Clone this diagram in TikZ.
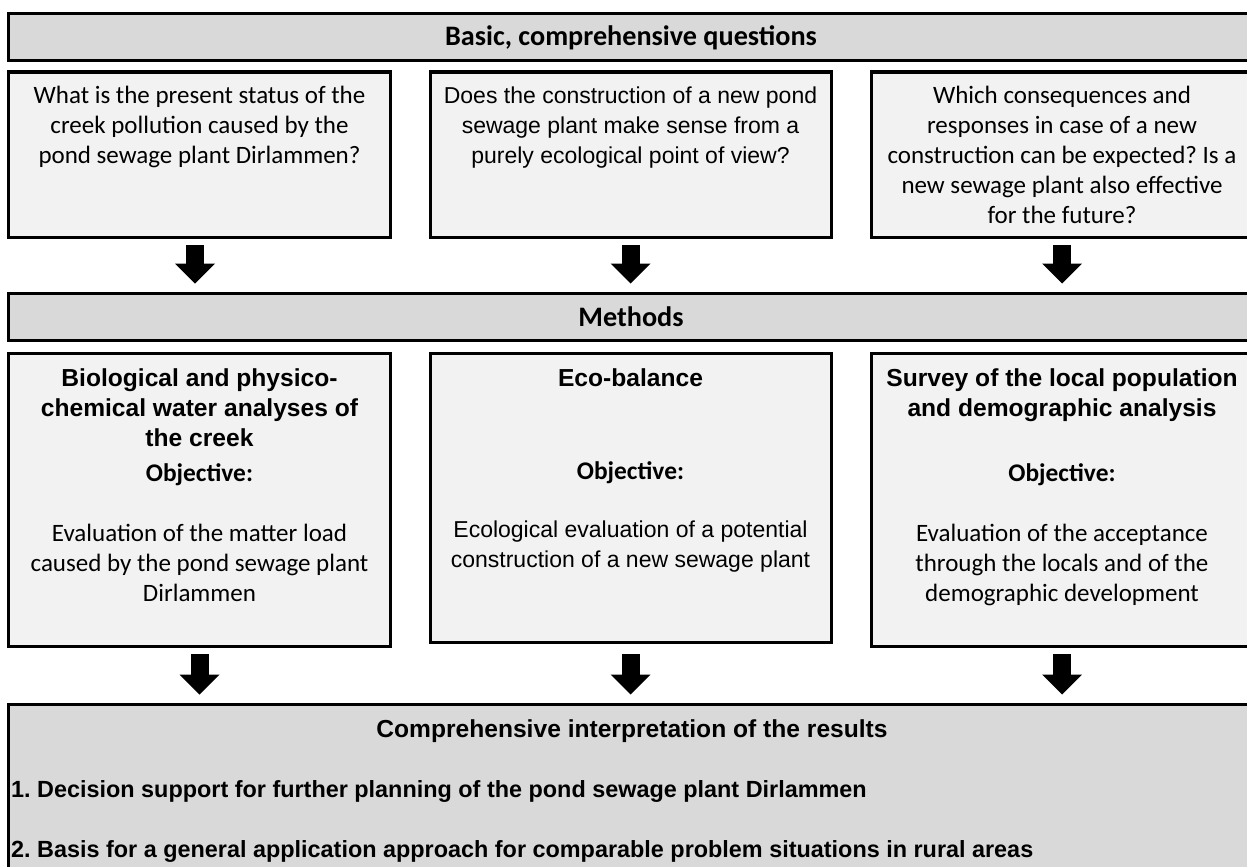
\documentclass[tikz,border=0pt]{standalone}
\usepackage{fontspec}
\setmainfont{Carlito}
\newfontfamily\arialfont{Liberation Sans}
\usetikzlibrary{positioning,arrows.meta}
\frenchspacing
\newcommand{\fatarrow}[2]{
	\draw[line width=18pt,-{Triangle[length=20pt,width=40pt,line width=0pt]},shorten <=8pt,shorten >=10pt] (#1)--(#2);
}
\tikzset{
	bar/.style={draw,line width=3pt,fill=black!15,inner sep=0pt,outer sep=0pt,anchor=north west},
	qbox/.style={draw,line width=3pt,fill=black!5,inner sep=0pt,outer sep=0pt,anchor=north west},
	headtext/.style={anchor=base,inner sep=0pt,font=\fontsize{28.2}{30}\selectfont\bfseries},
	objtext/.style={anchor=base,inner sep=0pt,font=\fontsize{25.4}{30}\selectfont\bfseries},
	qtext/.style={anchor=base,inner sep=0pt,align=center,font=\fontsize{25}{30}\selectfont},
	mhead/.style={anchor=base,inner sep=0pt,align=center,font=\arialfont\fontsize{24.6}{30}\selectfont\bfseries},
	atext/.style={anchor=base,inner sep=0pt,align=center,font=\arialfont\fontsize{23}{30}\selectfont},
	rtext/.style={anchor=base west,inner sep=0pt,font=\arialfont\fontsize{23.4}{30}\selectfont\bfseries}
}
\begin{document}
\begin{tikzpicture}[x=1pt,y=-1pt]
\useasboundingbox (0,0) rectangle (1247,867);
\clip (0,0) rectangle (1247,867);

% the base of a text is the base line of its last line
\node[bar,minimum width=1245pt,minimum height=47pt] (basic) at (8.5,13.5) {};
\node[headtext] (basictxt) at (631,45.5) {Basic, comprehensive questions};

\node[qbox,minimum width=382pt,minimum height=165pt] (q1) at (8.5,72) {};
\node[qbox,minimum width=401pt,minimum height=165pt] (q2) at (430,72) {};
\node[qbox,minimum width=382pt,minimum height=165pt] (q3) at (871,72) {};
\node[qtext] (q1txt) at (199.5,163) {What is the present status of the\\creek pollution caused by the\\pond sewage plant Dirlammen?};
\node[atext] (q2txt) at (630.5,163) {Does the construction of a new pond\\sewage plant make sense from a\\purely ecological point of view?};
\node[qtext] (q3txt) at (1062,223) {Which consequences and\\responses in case of a new\\construction can be expected? Is a\\new sewage plant also effective\\for the future?};

\node[bar,minimum width=1245pt,minimum height=47pt] (methods) at (8.5,293.5) {};
\node[headtext] (methodstxt) at (631,326.5) {Methods};

\fatarrow{[xshift=-4.5pt]q1.south}{[xshift=-4.5pt]q1.south |- methods.north}
\fatarrow{q2.south}{q2.south |- methods.north}
\fatarrow{q3.south}{q3.south |- methods.north}

\node[qbox,minimum width=382pt,minimum height=293pt] (m1) at (8.5,353) {};
\node[qbox,minimum width=401pt,minimum height=289pt] (m2) at (430,353) {};
\node[qbox,minimum width=382pt,minimum height=293pt] (m3) at (871,353) {};

\node[mhead] (m1head) at (199.5,446) {Biological and physico-\\chemical water analyses of\\the creek};
\node[objtext] (m1obj) at (199.5,481.5) {Objective:};
\node[qtext] (m1txt) at (199.5,601) {Evaluation of the matter load\\caused by the pond sewage plant\\Dirlammen};

\node[mhead] (m2head) at (630.5,386) {Eco-balance};
\node[objtext] (m2obj) at (630.5,479) {Objective:};
\node[atext] (m2txt) at (630.5,567) {Ecological evaluation of a potential\\construction of a new sewage plant};

\node[mhead] (m3head) at (1062,416) {Survey of the local population\\and demographic analysis};
\node[objtext] (m3obj) at (1062,481.5) {Objective:};
\node[qtext] (m3txt) at (1062,601) {Evaluation of the acceptance\\through the locals and of the\\demographic development};

\node[bar,minimum width=1247pt,minimum height=200pt] (results) at (8.5,704.5) {};
\node[mhead] (resultstxt) at (632,737) {Comprehensive interpretation of the results};
\node[rtext] (res1) at (11,797) {1. Decision support for further planning of the pond sewage plant Dirlammen};
\node[rtext] (res2) at (11,857) {2. Basis for a general application approach for comparable problem situations in rural areas};

\fatarrow{m1.south}{m1.south |- results.north}
\fatarrow{m2.south |- m1.south}{m2.south |- results.north}
\fatarrow{m3.south}{m3.south |- results.north}

\end{tikzpicture}
\end{document}
